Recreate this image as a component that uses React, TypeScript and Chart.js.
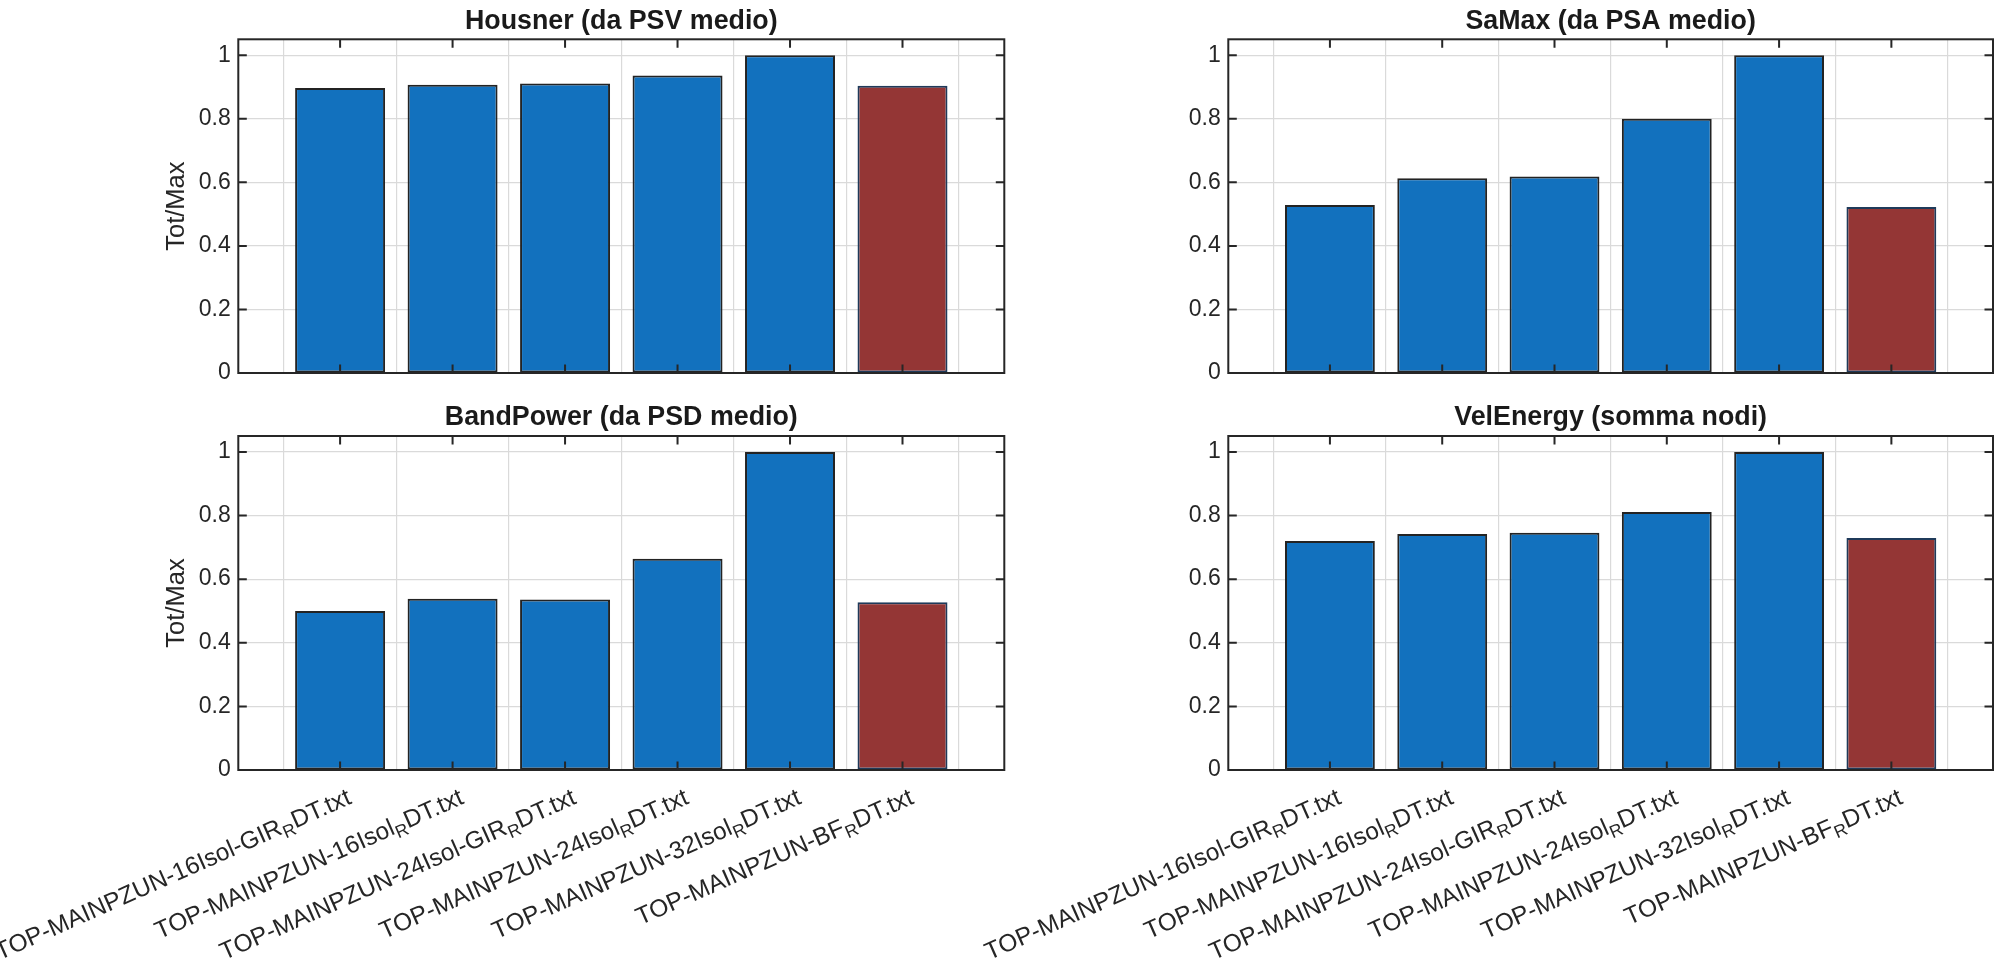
import React, { useEffect, useRef } from "react";
import { Chart, registerables } from "chart.js";

Chart.register(...registerables);

// ---------------- data ----------------
const categories = [
  "TOP-MAINPZUN-16Isol-GIR_RDT.txt",
  "TOP-MAINPZUN-16Isol_RDT.txt",
  "TOP-MAINPZUN-24Isol-GIR_RDT.txt",
  "TOP-MAINPZUN-24Isol_RDT.txt",
  "TOP-MAINPZUN-32Isol_RDT.txt",
  "TOP-MAINPZUN-BF_RDT.txt",
];
const referenceCategory = "TOP-MAINPZUN-BF_RDT.txt";

const housnerValues = [0.897, 0.907, 0.911, 0.936, 1.0, 0.904];
const saMaxValues = [0.529, 0.613, 0.618, 0.8, 1.0, 0.522];
const bandPowerValues = [0.5, 0.538, 0.536, 0.664, 1.0, 0.527];
const velEnergyValues = [0.72, 0.742, 0.746, 0.811, 1.0, 0.729];

const panelTitles = [
  "Housner (da PSV medio)",
  "SaMax (da PSA medio)",
  "BandPower (da PSD medio)",
  "VelEnergy (somma nodi)",
];
const yAxisLabel = "Tot/Max";
const yTickValues = [0, 0.2, 0.4, 0.6, 0.8, 1];
const yLimits = [0, 1.05];
const xLimits = [0.095, 6.905];

// ---------------- styles ----------------
const PAGE_W = 1998;
const PAGE_H = 961;
const FONT = "'Liberation Sans', Arial, Helvetica, sans-serif";
const AXIS_COLOR = "#262626";
const GRID_COLOR = "#dadada";
const BLUE = "#1271be";
const RED = "#943635";
const BLUE_EDGE = "#232323";
const RED_EDGE = "#1f3a5a";
const TICK_LEN = 8.5;
const TICK_FONT = 23;
const X_LABEL_FONT = 24.5;
const TITLE_FONT = 26.8;
const LABEL_FONT = 25.5;
const X_LABEL_ANGLE = (24 * Math.PI) / 180;
const X_LABEL_DX = 12.5;
const X_LABEL_DY = 33;
const Y_AXIS_W = 100;
const X_AXIS_H = 2;
const TITLE_BLOCK = 39.3;

type PanelCfg = {
  title: string;
  values: number[];
  left: number;
  right: number;
  top: number;
  bottom: number;
  showYLabel: boolean;
  showXLabels: boolean;
};

const panels: PanelCfg[] = [
  { title: panelTitles[0], values: housnerValues, left: 238.3, right: 1004.3, top: 39.3, bottom: 373, showYLabel: true, showXLabels: false },
  { title: panelTitles[1], values: saMaxValues, left: 1228.3, right: 1993, top: 39.3, bottom: 373, showYLabel: false, showXLabels: false },
  { title: panelTitles[2], values: bandPowerValues, left: 238.3, right: 1004.3, top: 436, bottom: 770, showYLabel: true, showXLabels: true },
  { title: panelTitles[3], values: velEnergyValues, left: 1228.3, right: 1993, top: 436, bottom: 770, showYLabel: false, showXLabels: true },
];

// split TeX-like "_X" subscripts
function parseTex(text: string) {
  const parts: { t: string; sub: boolean }[] = [];
  let buf = "";
  for (let i = 0; i < text.length; i++) {
    if (text[i] === "_" && i + 1 < text.length) {
      if (buf) parts.push({ t: buf, sub: false });
      buf = "";
      parts.push({ t: text[i + 1], sub: true });
      i++;
    } else {
      buf += text[i];
    }
  }
  if (buf) parts.push({ t: buf, sub: false });
  return parts;
}

function drawRotatedTexLabel(ctx: CanvasRenderingContext2D, text: string, x: number, y: number) {
  const parts = parseTex(text);
  const mainFont = `${X_LABEL_FONT}px ${FONT}`;
  const subFont = `${X_LABEL_FONT * 0.72}px ${FONT}`;
  const widths = parts.map((p) => {
    ctx.font = p.sub ? subFont : mainFont;
    return ctx.measureText(p.t).width;
  });
  const total = widths.reduce((a, b) => a + b, 0);
  ctx.save();
  ctx.translate(x, y);
  ctx.rotate(-X_LABEL_ANGLE);
  ctx.textAlign = "left";
  ctx.textBaseline = "alphabetic";
  ctx.fillStyle = AXIS_COLOR;
  let cx = -total;
  parts.forEach((p, i) => {
    ctx.font = p.sub ? subFont : mainFont;
    ctx.fillText(p.t, cx, p.sub ? X_LABEL_FONT * 0.22 : 0);
    cx += widths[i];
  });
  ctx.restore();
}

const matlabAxesPlugin = {
  id: "matlabAxes",
  afterDatasetsDraw(chart: any) {
    const { ctx, chartArea } = chart;
    const { left, right, top, bottom } = chartArea;
    const xs = chart.scales.x;
    const ys = chart.scales.y;
    ctx.save();
    ctx.strokeStyle = AXIS_COLOR;
    ctx.lineWidth = 2;
    ctx.beginPath();
    categories.forEach((_, i) => {
      const px = xs.getPixelForValue(i + 1);
      ctx.moveTo(px, bottom);
      ctx.lineTo(px, bottom - TICK_LEN);
      ctx.moveTo(px, top);
      ctx.lineTo(px, top + TICK_LEN);
    });
    yTickValues.forEach((v) => {
      const py = ys.getPixelForValue(v);
      ctx.moveTo(left, py);
      ctx.lineTo(left + TICK_LEN, py);
      ctx.moveTo(right, py);
      ctx.lineTo(right - TICK_LEN, py);
    });
    ctx.stroke();
    ctx.strokeRect(left, top, right - left, bottom - top);
    ctx.restore();
  },
  afterDraw(chart: any, _args: any, opts: any) {
    if (!opts || !opts.showLabels) return;
    const { ctx, chartArea } = chart;
    const xs = chart.scales.x;
    categories.forEach((label, i) => {
      const px = xs.getPixelForValue(i + 1);
      drawRotatedTexLabel(ctx, label, px + X_LABEL_DX, chartArea.bottom + X_LABEL_DY);
    });
  },
};

function Panel({ cfg }: { cfg: PanelCfg }) {
  const ref = useRef<HTMLCanvasElement | null>(null);
  useEffect(() => {
    if (!ref.current) return;
    const titleLine = TITLE_FONT * 1.2;
    const titlePadTop = 21.4 - titleLine / 2;
    const titlePadBottom = TITLE_BLOCK - titlePadTop - titleLine;
    const chart = new Chart(ref.current, {
      type: "bar",
      data: {
        datasets: [
          {
            data: cfg.values.map((v, i) => ({ x: i + 1, y: v })),
            backgroundColor: categories.map((c) => (c === referenceCategory ? RED : BLUE)),
            borderColor: categories.map((c) => (c === referenceCategory ? RED_EDGE : BLUE_EDGE)),
            borderWidth: 2,
            borderSkipped: false,
            barPercentage: 0.8,
            categoryPercentage: 1.0,
          } as any,
        ],
      },
      plugins: [matlabAxesPlugin],
      options: {
        responsive: false,
        animation: false,
        devicePixelRatio: 1,
        events: [],
        layout: {
          padding: {
            left: cfg.left - Y_AXIS_W,
            right: PAGE_W - cfg.right,
            top: cfg.top - TITLE_BLOCK,
            bottom: PAGE_H - cfg.bottom - X_AXIS_H,
          },
        },
        plugins: {
          legend: { display: false },
          tooltip: { enabled: false },
          title: {
            display: true,
            text: cfg.title,
            fullSize: false,
            color: "#1a1a1a",
            font: { family: FONT, size: TITLE_FONT, weight: "bold", lineHeight: 1.2 },
            padding: { top: titlePadTop, bottom: titlePadBottom },
          },
          matlabAxes: { showLabels: cfg.showXLabels },
        } as any,
        scales: {
          x: {
            type: "linear",
            min: xLimits[0],
            max: xLimits[1],
            offset: false,
            afterBuildTicks: (s: any) => {
              s.ticks = categories.map((_, i) => ({ value: i + 1 }));
            },
            afterFit: (s: any) => {
              s.height = X_AXIS_H;
            },
            ticks: { display: false },
            grid: { color: GRID_COLOR, lineWidth: 1.2, drawTicks: false },
            border: { display: false },
          },
          y: {
            type: "linear",
            min: yLimits[0],
            max: yLimits[1],
            afterBuildTicks: (s: any) => {
              s.ticks = yTickValues.map((v) => ({ value: v }));
            },
            afterFit: (s: any) => {
              s.width = Y_AXIS_W;
            },
            ticks: {
              color: AXIS_COLOR,
              padding: 7.6,
              font: { family: FONT, size: TICK_FONT },
              callback: (v: any) => String(Math.round(Number(v) * 10) / 10),
            },
            grid: { color: GRID_COLOR, lineWidth: 1.2, drawTicks: false },
            border: { display: false },
            title: {
              display: cfg.showYLabel,
              text: yAxisLabel,
              color: AXIS_COLOR,
              font: { family: FONT, size: LABEL_FONT, lineHeight: 1.2 },
              padding: { top: 23.1, bottom: 0 },
            },
          },
        },
      } as any,
    });
    return () => chart.destroy();
  }, [cfg]);
  return (
    <canvas
      ref={ref}
      width={PAGE_W}
      height={PAGE_H}
      style={{ position: "absolute", left: 0, top: 0, width: PAGE_W, height: PAGE_H }}
    />
  );
}

export default function App() {
  return (
    <div
      style={{
        position: "absolute",
        left: 0,
        top: 0,
        width: PAGE_W,
        height: PAGE_H,
        background: "#ffffff",
        overflow: "hidden",
      }}
    >
      {panels.map((p, i) => (
        <Panel key={i} cfg={p} />
      ))}
    </div>
  );
}
